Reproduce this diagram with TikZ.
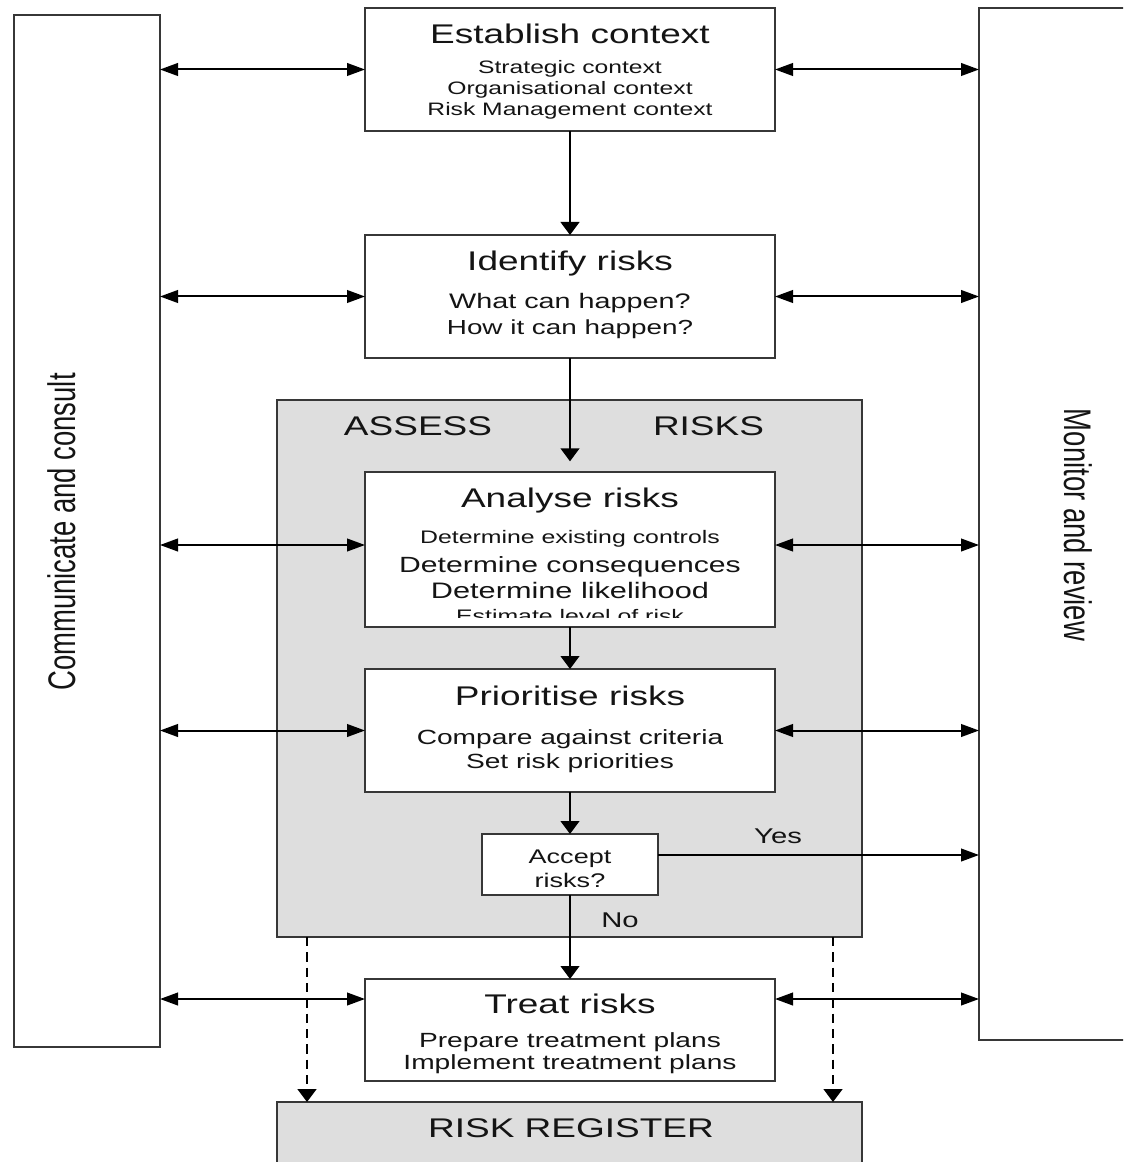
\documentclass[tikz,border=0pt]{standalone}
\usepackage{fontspec}
\setmainfont{Liberation Sans}[FakeStretch=1.37]
\newfontfamily\rotfont{Liberation Sans}
\usetikzlibrary{arrows.meta,calc}
\definecolor{bordercol}{RGB}{55,55,55}
\definecolor{greyfill}{RGB}{222,222,222}
\definecolor{textcol}{RGB}{20,20,20}
\newcommand\fsz[1]{\fontsize{#1pt}{#1pt}\selectfont}
\begin{document}
\begin{tikzpicture}[x=0.75pt,y=-0.75pt,
  box/.style={draw=bordercol,line width=1.6pt,fill=white,inner sep=0pt,outer sep=0pt},
  greybox/.style={box,fill=greyfill},
  wh/.style 2 args={minimum width=#1*0.75pt,minimum height=#2*0.75pt},
  txt/.style={anchor=base,inner sep=0pt,outer sep=0pt,text=textcol},
  head/.style={txt,font=\fsz{20.25}},
  harrow/.style={line width=1.5pt,-{Triangle[length=13.5pt,width=9.5pt]}},
  darrow/.style={line width=1.5pt,{Triangle[length=13.5pt,width=9.5pt]}-{Triangle[length=13.5pt,width=9.5pt]}},
  varrow/.style={line width=1.7pt,-{Triangle[length=9.75pt,width=14pt]}},
  dasharrow/.style={varrow,line width=2pt,dash pattern=on 7pt off 4.5pt}]
\useasboundingbox (0,0) rectangle (1123,1162);
\clip (0,0) rectangle (1123,1162);
\fill[white] (0,0) rectangle (1123,1162);
% side boxes
\node[box,wh={146}{1032}] (comm) at (87,531) {};
\node[box,wh={161}{1032}] (monitor) at (1059.5,524) {};
% main boxes
\node[box,wh={410}{123}] (est) at (570,69.5) {};
\node[box,wh={410}{123}] (ident) at (570,296.5) {};
\node[greybox,wh={585}{537}] (assess) at (569.5,668.5) {};
\node[box,wh={410}{155}] (analyse) at (570,549.5) {};
\node[box,wh={410}{123}] (prior) at (570,730.5) {};
\node[box,wh={176}{61}] (accept) at (570,864.5) {};
\node[box,wh={410}{102}] (treat) at (570,1030) {};
\node[greybox,wh={585}{78}] (register) at (569.5,1141) {};
% vertical connectors
\draw[varrow] (est.south) -- (ident.north);
\draw[varrow,shorten >=8pt] (ident.south) -- (analyse.north);
\draw[varrow] (analyse.south) -- (prior.north);
\draw[varrow] (prior.south) -- (accept.north);
\draw[varrow] (accept.south) -- (treat.north);
% dashed connectors to register
\coordinate (dl) at ($(assess.south west)+(30,0)$);
\coordinate (dr) at ($(assess.south east)+(-29,0)$);
\draw[dasharrow] (dl) -- (dl |- register.north);
\draw[dasharrow] (dr) -- (dr |- register.north);
% horizontal double arrows
\coordinate (eL) at (est.west);
\coordinate (iL) at (ident.west);
\coordinate (aL) at ($(analyse.west)+(0,-4.5)$);
\coordinate (pL) at (prior.west);
\coordinate (tL) at ($(treat.west)+(0,-31)$);
\coordinate (eR) at (est.east);
\coordinate (iR) at (ident.east);
\coordinate (aR) at ($(analyse.east)+(0,-4.5)$);
\coordinate (pR) at (prior.east);
\coordinate (tR) at ($(treat.east)+(0,-31)$);
\foreach \c in {eL,iL,aL,pL,tL}{
  \draw[darrow] (comm.east |- \c) -- (\c);
}
\foreach \c in {eR,iR,aR,pR,tR}{
  \draw[darrow] (\c) -- (monitor.west |- \c);
}
% Yes arrow
\coordinate (yS) at ($(accept.east)+(0,-9.5)$);
\draw[harrow] (yS) -- (monitor.west |- yS);
% texts
\node[head] (estH) at (570,44) {Establish context};
\node[txt,font=\fsz{13.5}] (est1) at (570,74) {Strategic context};
\node[txt,font=\fsz{13.5}] (est2) at (570,95) {Organisational context};
\node[txt,font=\fsz{13.5}] (est3) at (570,116) {Risk Management context};
\node[head] (idH) at (570,271) {Identify risks};
\node[txt,font=\fsz{15.75}] (id1) at (570,309) {What can happen?};
\node[txt,font=\fsz{15.25}] (id2) at (570,334) {How it can happen?};
\node[head] (asL) at (418,435) {ASSESS};
\node[head] (asR) at (708.5,435) {RISKS};
\node[head] (anH) at (570,507) {Analyse risks};
\node[txt,font=\fsz{13.6}] (an1) at (570,543) {Determine existing controls};
\node[txt,font=\fsz{16.5}] (an2) at (570,572) {Determine consequences};
\node[txt,font=\fsz{16.8}] (an3) at (570,598) {Determine likelihood};
\begin{scope}
\clip (366,600) rectangle (774,617);
\node[txt,font=\fsz{13.6}] (an4) at (570,622) {Estimate level of risk};
\end{scope}
\node[head] (prH) at (570,705) {Prioritise risks};
\node[txt,font=\fsz{15.4}] (pr1) at (570,744) {Compare against criteria};
\node[txt,font=\fsz{15.4}] (pr2) at (570,768) {Set risk priorities};
\node[txt,font=\fsz{14.8}] (ac1) at (570,863) {Accept};
\node[txt,font=\fsz{14.8}] (ac2) at (570,887) {risks?};
\node[txt,font=\fsz{16}] (yes) at (778,843) {Yes};
\node[txt,font=\fsz{16}] (no) at (620,927) {No};
\node[head] (trH) at (570,1013) {Treat risks};
\node[txt,font=\fsz{15.4}] (tr1) at (570,1047) {Prepare treatment plans};
\node[txt,font=\fsz{15.4}] (tr2) at (570,1069) {Implement treatment plans};
\node[head] (reg) at (571,1137) {RISK REGISTER};
\node[inner sep=0pt,text=textcol,rotate=90,font=\rotfont\fsz{20.6}] (commT) at (62,532) {\scalebox{1}[1.4]{Communicate and consult}};
\node[inner sep=0pt,text=textcol,rotate=-90,font=\rotfont\fsz{20.6}] (monT) at (1078,525) {\scalebox{1}[1.4]{Monitor and review}};
\end{tikzpicture}
\end{document}
